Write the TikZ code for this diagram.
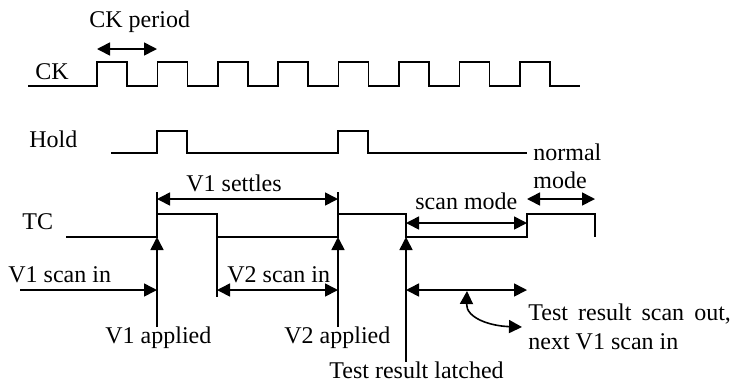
\documentclass[tikz,border=0pt]{standalone}
\usepackage{fontspec}
\setmainfont{Liberation Serif}
\usetikzlibrary{arrows.meta}
\tikzset{
  wave/.style={line width=0.8pt, line join=miter},
  guide/.style={line width=0.8pt},
  dim/.style={line width=0.8pt, {Triangle[length=6.5pt,width=6.5pt]}-{Triangle[length=6.5pt,width=6.5pt]}},
  pointer/.style={line width=0.8pt, -{Triangle[length=6.5pt,width=6.5pt]}},
  lbl/.style={anchor=base west, inner sep=0pt, font=\fontsize{12}{14}\selectfont}
}
\begin{document}
\begin{tikzpicture}[x=0.5pt, y=-0.5pt]
\useasboundingbox (0,0) rectangle (731,387);

% signal names
\node[lbl] (ckname)   at (35,79)  {CK};
\node[lbl] (holdname) at (29,147) {Hold};
\node[lbl] (tcname)   at (22,229) {TC};

% clock: eight pulses, period 60.4
\draw[wave] (28,86)
  \foreach \k in {0,...,7} {
    -- ({97+60.4*\k},86) -- ({97+60.4*\k},62)
    -- ({127+60.4*\k},62) -- ({127+60.4*\k},86)
  } -- (580,86);

% hold
\draw[wave] (111,153) -- (157,153) -- (157,131) -- (187,131) -- (187,153)
  -- (338,153) -- (338,131) -- (368,131) -- (368,153) -- (527,153);

% test control
\draw[wave] (66,237) -- (157,237) -- (157,214) -- (217,214) -- (217,237)
  -- (338,237) -- (338,214) -- (406,214) -- (406,237)
  -- (527,237) -- (527,214) -- (595,214) -- (595,237);

% key instants
\coordinate (p1top) at (157,192);
\coordinate (p1tc)  at (157,237);
\coordinate (p1bot) at (157,327);
\coordinate (p2top) at (338,192);
\coordinate (p2tc)  at (338,237);
\coordinate (p2bot) at (338,327);
\coordinate (fall1) at (217,214);
\coordinate (fall1bot) at (217,297);
\coordinate (latch) at (406,237);
\coordinate (latchbot) at (406,362);

\draw[guide] (p1top) -- (p1tc);
\draw[pointer] (p1bot) -- (p1tc);
\draw[guide] (p2top) -- (p2tc);
\draw[pointer] (p2bot) -- (p2tc);
\draw[guide] (fall1) -- (fall1bot);
\draw[pointer] (latchbot) -- (latch);

% CK period
\coordinate (cka) at (97,49);
\coordinate (ckb) at (157,49);
\draw[dim] (cka) -- (ckb);
\node[lbl] (ckper) at (89,27) {CK period};

% V1 settles
\coordinate (sa) at (157,199);
\coordinate (sb) at (338,199);
\draw[dim] (sa) -- (sb);
\node[lbl] (settle) at (186,191) {V1 settles};

% scan mode / normal mode
\coordinate (sma) at (406,223);
\coordinate (smb) at (527,223);
\draw[dim] (sma) -- (smb);
\node[lbl] (scanmode) at (415,209) {scan mode};
\coordinate (nma) at (527,199);
\coordinate (nmb) at (595,199);
\draw[dim] (nma) -- (nmb);
\node[lbl] (normal) at (533,160) {normal};
\node[lbl] (mode)   at (533,188) {mode};

% scan in
\coordinate (v1a) at (20,290);
\coordinate (v1b) at (157,290);
\draw[pointer] (v1a) -- (v1b);
\node[lbl] (v1scan) at (8,282) {V1 scan in};
\coordinate (v2a) at (217,290);
\coordinate (v2b) at (338,290);
\draw[dim] (v2a) -- (v2b);
\node[lbl] (v2scan) at (227,282) {V2 scan in};

% scan out
\coordinate (soa) at (406,290);
\coordinate (sob) at (527,290);
\draw[dim] (soa) -- (sob);
\coordinate (cvtop) at (467,291);
\coordinate (cvend) at (522,327);
\draw[dim] (cvtop) .. controls (466,318) and (490,326) .. (cvend);
\node[lbl] (scanout) at (528,320) {Test\hspace{0.42em}result\hspace{0.42em}scan\hspace{0.42em}out,};
\node[lbl] (nextv1)  at (528,349) {next V1 scan in};

% event labels
\node[lbl] (v1app) at (105,343) {V1 applied};
\node[lbl] (v2app) at (284,343) {V2 applied};
\node[lbl] (latched) at (329,378) {Test result latched};
\end{tikzpicture}
\end{document}
